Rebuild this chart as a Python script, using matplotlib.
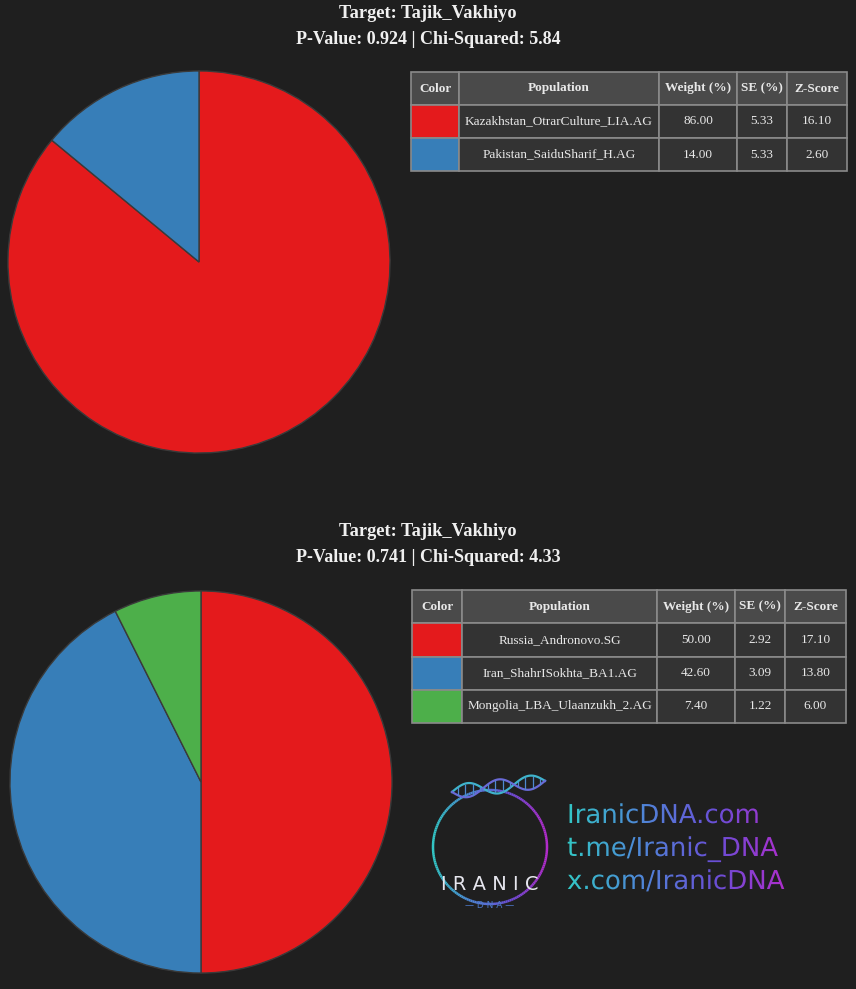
import numpy as np
import matplotlib.pyplot as plt
from matplotlib.patches import PathPatch
from matplotlib.textpath import TextPath
from matplotlib.font_manager import FontProperties
from matplotlib.colors import LinearSegmentedColormap

# data
target = "Tajik_Vakhiyo"
colors = ['#e41a1c', '#377eb8', '#4daf4a']

pops1 = ["Kazakhstan_OtrarCulture_LIA.AG", "Pakistan_SaiduSharif_H.AG"]
weights1 = [86.00, 14.00]
se1 = [5.33, 5.33]
z1 = [16.10, 2.60]
pval1, chi1 = 0.924, 5.84

pops2 = ["Russia_Andronovo.SG", "Iran_ShahrISokhta_BA1.AG", "Mongolia_LBA_Ulaanzukh_2.AG"]
weights2 = [50.00, 42.60, 7.40]
se2 = [2.92, 3.09, 1.22]
z2 = [17.10, 13.80, 6.00]
pval2, chi2 = 0.741, 4.33

header = ["Color", "Population", "Weight (%)", "SE (%)", "Z-Score"]
links = ["IranicDNA.com", "t.me/Iranic_DNA", "x.com/IranicDNA"]

BG = '#1f1f1f'
W, H = 856, 989
SERIF = ['Liberation Serif', 'DejaVu Serif']

fig = plt.figure(figsize=(W / 100, H / 100), dpi=100, facecolor=BG)


def px_axes(x, y, w, h):
    """Axes from pixel box (top-left origin)."""
    return fig.add_axes([x / W, 1 - (y + h) / H, w / W, h / H])


def draw_block(top, pie_box, table_box, col_px, pops, weights, se, z, pval, chi):
    fig.text(0.5, 1 - (top + 14) / H, f"Target: {target}", ha='center', va='center',
             color='#f0f0f0', fontsize=13.2, fontweight='bold', family=SERIF)
    fig.text(0.5, 1 - (top + 39) / H, f"P-Value: {pval:.3f} | Chi-Squared: {chi:.2f}",
             ha='center', va='center', color='#f0f0f0', fontsize=13,
             fontweight='bold', family=SERIF)

    ax = px_axes(*pie_box)
    ax.pie(weights, colors=colors[:len(weights)], startangle=90, counterclock=False,
           wedgeprops=dict(edgecolor='#3a3a3a', linewidth=1))
    ax.set_xlim(-1.005, 1.005)
    ax.set_ylim(-1.005, 1.005)
    ax.set_facecolor(BG)

    tax = px_axes(*table_box)
    tax.axis('off')
    rows = [["", p, f"{w:.2f}", f"{s:.2f}", f"{zz:.2f}"]
            for p, w, s, zz in zip(pops, weights, se, z)]
    total = sum(col_px)
    tbl = tax.table(cellText=rows, colLabels=header, bbox=[0, 0, 1, 1],
                    colWidths=[c / total for c in col_px], cellLoc='center')
    tbl.auto_set_font_size(False)
    for (r, c), cell in tbl.get_celld().items():
        cell.set_edgecolor('#8a8a8a')
        cell.set_linewidth(1.2)
        txt = cell.get_text()
        txt.set_color('#e8e8e8')
        txt.set_fontfamily(SERIF)
        txt.set_fontsize(9.5)
        if r == 0:
            cell.set_facecolor('#4a4a4a')
            txt.set_fontweight('bold')
        elif c == 0:
            cell.set_facecolor(colors[r - 1])
        else:
            cell.set_facecolor('#333333')


draw_block(0, (7, 70, 384, 384), (411, 72, 436, 99), [48, 200, 78, 50, 60],
           pops1, weights1, se1, z1, pval1, chi1)
draw_block(518, (9, 590, 384, 384), (412, 590, 434, 133), [50, 195, 78, 50, 61],
           pops2, weights2, se2, z2, pval2, chi2)

# logo + links overlay, data units = pixels (y up)
ov = fig.add_axes([0, 0, 1, 1])
ov.axis('off')
ov.patch.set_alpha(0)

cmap = LinearSegmentedColormap.from_list(
    'iranic', ['#33c7c6', '#4f86d8', '#6a4fd6', '#b22ccc'])
grad = np.linspace(0, 1, 256).reshape(1, -1)

# ring with colour sweep (cyan on the left, purple on the right)
cx, cy, rad = 490, H - 847, 57
theta = np.linspace(0, 2 * np.pi, 181)
for k in range(len(theta) - 1):
    t0, t1 = theta[k], theta[k + 1]
    frac = (np.cos((t0 + t1) / 2) + 1) / 2
    ov.plot([cx + rad * np.cos(t0), cx + rad * np.cos(t1)],
            [cy + rad * np.sin(t0), cy + rad * np.sin(t1)],
            color=cmap(frac), lw=1.8, solid_capstyle='butt')

# dna helix over the top of the ring
hx = np.linspace(452, 545, 120)
phase = (hx - 452) / 93 * 3 * np.pi
hy = cy + 55 + (hx - 452) * 0.12
ov.plot(hx, hy + 7 * np.sin(phase), color='#3fb4cc', lw=1.6)
ov.plot(hx, hy - 7 * np.sin(phase), color='#6a6ad8', lw=1.6)
for xr in np.linspace(458, 540, 12):
    ph = (xr - 452) / 93 * 3 * np.pi
    yr = cy + 55 + (xr - 452) * 0.12
    ov.plot([xr, xr], [yr + 6 * np.sin(ph), yr - 6 * np.sin(ph)], color='#4e8ad0', lw=0.9)

ov.text(cx, H - 884, "I R A N I C", ha='center', va='center', color='#e6e6ee',
        fontsize=14, family='DejaVu Sans')
ov.text(cx, H - 905, "— D N A —", ha='center', va='center', color='#4d79c8',
        fontsize=6.5, family='DejaVu Sans')

prop = FontProperties(family='DejaVu Sans', weight='normal')
for i, s in enumerate(links):
    base = H - (823 + i * 33)
    tp = TextPath((567, base), s, size=26, prop=prop)
    patch = PathPatch(tp, facecolor='none', edgecolor='none')
    ov.add_patch(patch)
    bb = tp.get_extents()
    im = ov.imshow(grad, cmap=cmap, aspect='auto',
                   extent=[567, 790, bb.y0 - 2, bb.y1 + 2], origin='lower')
    im.set_clip_path(patch)
ov.set_xlim(0, W)
ov.set_ylim(0, H)

fig.savefig('out.png', dpi=100, facecolor=BG)
